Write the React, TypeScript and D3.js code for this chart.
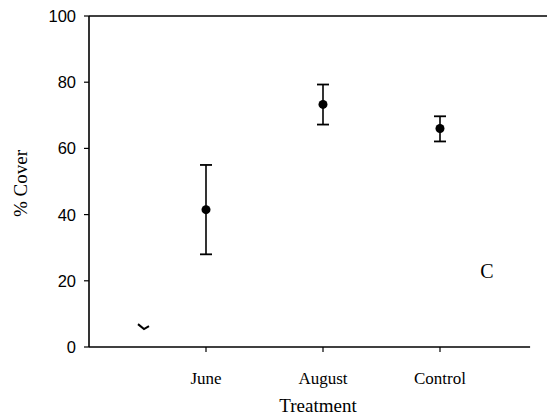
import * as d3 from "d3";
import React from "react";

const width = 547;
const height = 417;
const margin = { top: 16, right: 17, bottom: 70, left: 89 };

// treatments (index positions along the x axis)
const categories = ["June", "August", "Control"];
const catIndex = [1, 2, 3];
const means = [41.5, 73.3, 66];
const upper = [55, 79.3, 69.7];
const lower = [28, 67.2, 62.1];

// stray mark near the origin in the original figure
const strayIndex = [0.47];
const strayValue = [6];

const yTicks = [0, 20, 40, 60, 80, 100];

const serif = "'Liberation Serif', 'Times New Roman', serif";

const App = () => {
  const xScale = d3.scaleLinear().domain([0, 3]).range([margin.left, 440]);
  const yScale = d3.scaleLinear().domain([0, 100]).range([347, margin.top]);
  const axisRight = xScale(3.77);

  const capHalf = 6;

  return (
    <svg width={width} height={height} style={{ position: "absolute", left: 0, top: 0, background: "#fff" }}>
      {/* top frame line */}
      <line x1={margin.left} x2={width} y1={yScale(100)} y2={yScale(100)} stroke="#000" strokeWidth={1.6} />
      {/* y axis */}
      <line x1={margin.left} x2={margin.left} y1={yScale(100)} y2={yScale(0)} stroke="#000" strokeWidth={1.6} />
      {yTicks.map((t) => (
        <g key={t} transform={`translate(0, ${yScale(t)})`}>
          <line x1={margin.left - 5} x2={margin.left} stroke="#000" strokeWidth={1.2} />
          <text
            x={margin.left - 13}
            dy="0.36em"
            textAnchor="end"
            fontFamily="'Liberation Sans', Arial, sans-serif"
            fontSize={16.5}
          >
            {t}
          </text>
        </g>
      ))}
      {/* x axis */}
      <line x1={margin.left} x2={axisRight} y1={yScale(0)} y2={yScale(0)} stroke="#000" strokeWidth={1.4} />
      {categories.map((c, i) => (
        <g key={c} transform={`translate(${xScale(catIndex[i])}, ${yScale(0)})`}>
          <line y1={0} y2={5} stroke="#000" strokeWidth={1.2} />
          <text y={37} textAnchor="middle" fontFamily={serif} fontSize={17}>
            {c}
          </text>
        </g>
      ))}
      <text x={318} y={412} textAnchor="middle" fontFamily={serif} fontSize={19}>
        Treatment
      </text>
      <text
        transform={`translate(27, ${yScale(50) + 2}) rotate(-90)`}
        textAnchor="middle"
        fontFamily={serif}
        fontSize={19}
      >
        % Cover
      </text>

      {/* error bars */}
      {means.map((m, i) => {
        const x = xScale(catIndex[i]);
        return (
          <g key={i}>
            <line x1={x} x2={x} y1={yScale(upper[i])} y2={yScale(lower[i])} stroke="#000" strokeWidth={1.6} />
            <line x1={x - capHalf} x2={x + capHalf} y1={yScale(upper[i])} y2={yScale(upper[i])} stroke="#000" strokeWidth={1.8} />
            <line x1={x - capHalf} x2={x + capHalf} y1={yScale(lower[i])} y2={yScale(lower[i])} stroke="#000" strokeWidth={1.8} />
            <circle cx={x} cy={yScale(m)} r={4.5} fill="#000" />
          </g>
        );
      })}

      {/* stray tick mark */}
      {strayIndex.map((s, i) => {
        const x = xScale(s);
        const y = yScale(strayValue[i]);
        return (
          <path
            key={i}
            d={`M${x - 6},${y - 3} L${x},${y + 2} L${x + 5},${y - 1}`}
            fill="none"
            stroke="#000"
            strokeWidth={2}
          />
        );
      })}

      <text x={487} y={278} textAnchor="middle" fontFamily={serif} fontSize={20}>
        C
      </text>
    </svg>
  );
};

export default App;
